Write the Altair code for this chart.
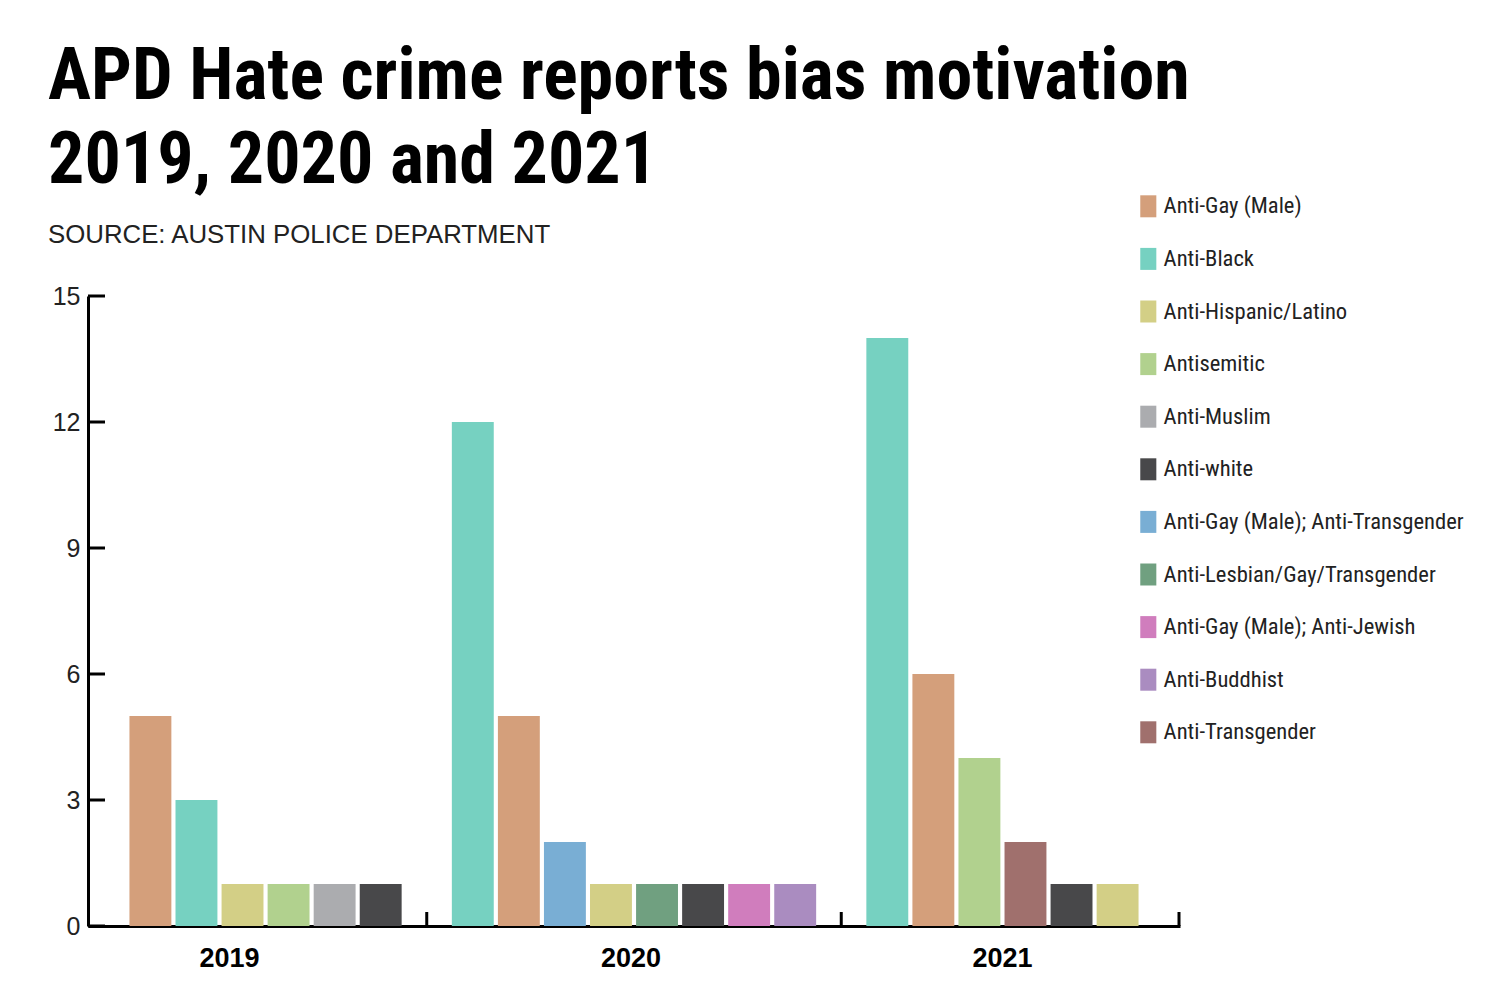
import altair as alt
import pandas as pd

# ---------------- data ----------------
years = ["2019", "2020", "2021"]

cats_2019 = ["Anti-Gay (Male)", "Anti-Black", "Anti-Hispanic/Latino", "Antisemitic",
             "Anti-Muslim", "Anti-white"]
vals_2019 = [5, 3, 1, 1, 1, 1]

cats_2020 = ["Anti-Black", "Anti-Gay (Male)", "Anti-Gay (Male); Anti-Transgender",
             "Anti-Hispanic/Latino", "Anti-Lesbian/Gay/Transgender", "Anti-white",
             "Anti-Gay (Male); Anti-Jewish", "Anti-Buddhist"]
vals_2020 = [12, 5, 2, 1, 1, 1, 1, 1]

cats_2021 = ["Anti-Black", "Anti-Gay (Male)", "Antisemitic", "Anti-Transgender",
             "Anti-white", "Anti-Hispanic/Latino"]
vals_2021 = [14, 6, 4, 2, 1, 1]

legend_order = ["Anti-Gay (Male)", "Anti-Black", "Anti-Hispanic/Latino", "Antisemitic",
                "Anti-Muslim", "Anti-white", "Anti-Gay (Male); Anti-Transgender",
                "Anti-Lesbian/Gay/Transgender", "Anti-Gay (Male); Anti-Jewish",
                "Anti-Buddhist", "Anti-Transgender"]
colors = ["#D49F7B", "#76D1C1", "#D3CF86", "#B1D18E", "#ABACAF", "#48484A",
          "#79AED4", "#70A080", "#D07DBD", "#AA8CC0", "#A0706D"]

y_ticks = [0, 3, 6, 9, 12, 15]

# ---------------- build table ----------------
groups = [(years[0], cats_2019, vals_2019),
          (years[1], cats_2020, vals_2020),
          (years[2], cats_2021, vals_2021)]
rows = []
slot_domain = []
gap_slots = []
for gi, (yr, cats, vals) in enumerate(groups):
    if gi > 0:
        g = f"gap-{gi}"
        slot_domain.append(g)
        gap_slots.append(g)
    for i, (c, v) in enumerate(zip(cats, vals)):
        s = f"{yr}-{i + 1}"
        slot_domain.append(s)
        rows.append({"year": yr, "slot": s, "category": c, "count": v})
df = pd.DataFrame(rows)

W, H = 1092, 630
FONT = "Roboto Condensed, Liberation Sans Narrow, DejaVu Sans Condensed, Liberation Sans, sans-serif"
FONT_W = "Liberation Sans, Arial, sans-serif"

xscale = alt.Scale(domain=slot_domain, paddingInner=0.09, paddingOuter=0.9)
yscale = alt.Scale(domain=[0, 15])
xaxis = alt.Axis(labels=False, ticks=False, title=None, domainColor="black",
                 domainWidth=3, grid=False)
yaxis = alt.Axis(values=y_ticks, title=None, ticks=False, grid=False,
                 domainColor="black", domainWidth=3, labelFont=FONT_W,
                 labelFontSize=25, labelColor="#222", labelPadding=8)

bars = alt.Chart(df).mark_bar().encode(
    x=alt.X("slot:N", scale=xscale, axis=xaxis),
    y=alt.Y("count:Q", scale=yscale, axis=yaxis),
    color=alt.Color("category:N",
                    scale=alt.Scale(domain=legend_order, range=colors),
                    legend=alt.Legend(title=None, orient="none", legendX=1049, legendY=-101,
                                      direction="vertical",
                                      symbolType="M-0.73,-1H0.73V1H-0.73Z",
                                      symbolSize=484, symbolStrokeWidth=0,
                                      labelFont=FONT, labelFontSize=22.6, labelColor="#222",
                                      labelOffset=4, rowPadding=29.6, padding=0,
                                      labelLimit=400)),
)

# x-axis ticks pointing up at group boundaries
xt = pd.DataFrame({"slot": gap_slots})
xticks = alt.Chart(xt).mark_rule(color="black", strokeWidth=3).encode(
    x=alt.X("slot:N", scale=xscale, axis=xaxis),
    y=alt.value(H), y2=alt.value(H - 14),
)
end_tick = alt.Chart(xt.head(1)).mark_rule(color="black", strokeWidth=3).encode(
    x=alt.value(W - 1), y=alt.value(H), y2=alt.value(H - 14),
)

# y-axis ticks pointing right
yt = pd.DataFrame({"count": y_ticks})
yticks = alt.Chart(yt).mark_rule(color="black", strokeWidth=3).encode(
    y=alt.Y("count:Q", scale=yscale, axis=yaxis),
    x=alt.value(0), x2=alt.value(17),
)

# year labels
label_anchor = ["2019-3", "2020-4", "2021-3"]
label_dx = [-13, 20, 23]
year_layers = []
for yr, s, d in zip(years, label_anchor, label_dx):
    year_layers.append(
        alt.Chart(pd.DataFrame({"slot": [s], "label": [yr]})).mark_text(
            font=FONT_W, fontWeight="bold", fontSize=27, color="black",
            baseline="alphabetic", align="center", dx=d,
        ).encode(x=alt.X("slot:N", scale=xscale, axis=xaxis), y=alt.value(H + 41),
                 text="label:N")
    )

# titles (two lines in one text element)
title_lines = ["APD Hate crime reports bias motivation", "2019, 2020 and 2021"]
subtitle = "SOURCE: AUSTIN POLICE DEPARTMENT"
title = alt.Chart(pd.DataFrame({"t": ["\n".join(title_lines)]})).mark_text(
    font=FONT, fontWeight="bold", fontSize=72, color="black", align="left",
    baseline="alphabetic", lineBreak="\n", lineHeight=84,
).encode(x=alt.value(-40), y=alt.value(-197), text="t:N")
st = alt.Chart(pd.DataFrame({"t": [subtitle]})).mark_text(
    font=FONT_W, fontSize=25.8, color="#222", align="left",
    baseline="alphabetic").encode(x=alt.value(-40), y=alt.value(-53), text="t:N")

chart = alt.layer(bars, xticks, end_tick, yticks, *year_layers, title, st).properties(
    width=W, height=H,
    autosize=alt.AutoSizeParams(type="none"),
    padding={"left": 88, "top": 296, "right": 321, "bottom": 60},
    background="white",
).configure_view(stroke=None)

chart.save("out.html", embed_options={"renderer": "svg", "actions": False})
